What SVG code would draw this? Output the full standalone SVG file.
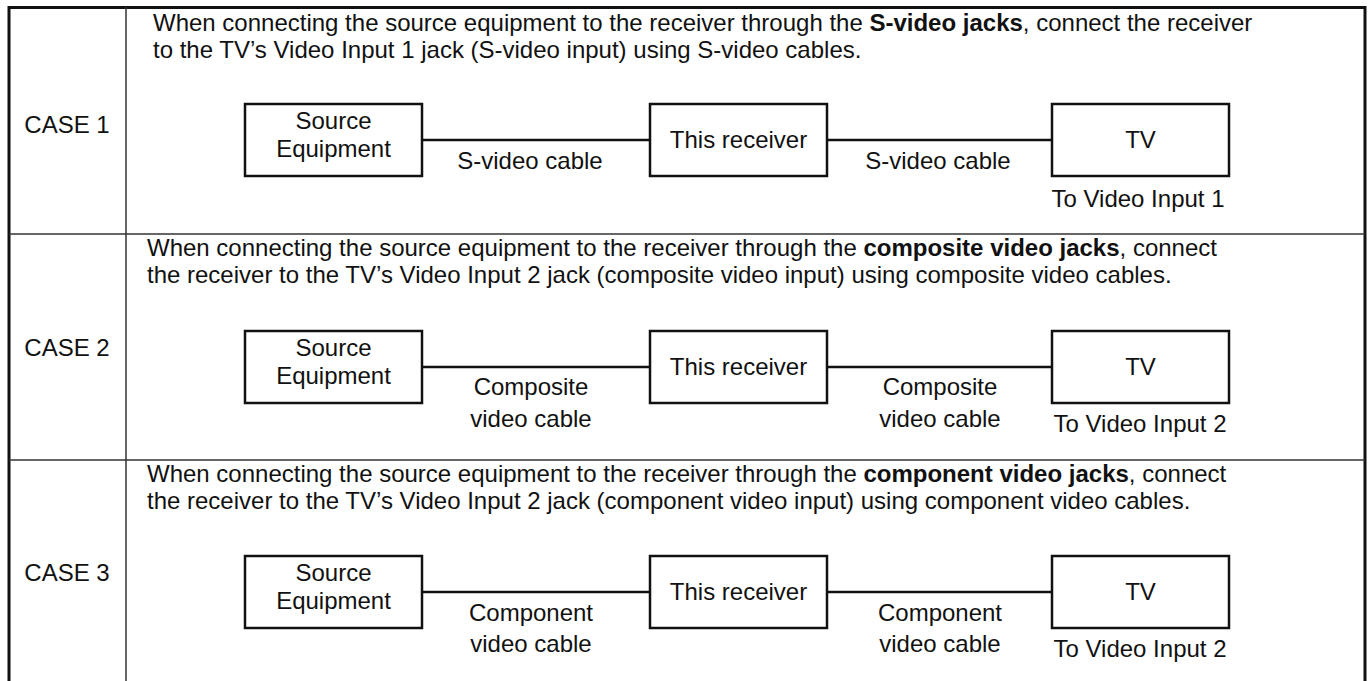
<svg xmlns="http://www.w3.org/2000/svg" width="1371" height="681" viewBox="0 0 1371 681">
<style>
text{font-family:"Liberation Sans",Arial,Helvetica,sans-serif;font-size:24px;fill:#111}
.m{text-anchor:middle}
.b{font-weight:bold}
.box{fill:#fff;stroke:#111;stroke-width:2.5}
.frame{fill:none;stroke:#111;stroke-width:3}
.div{fill:none;stroke:#333;stroke-width:1.5}
.wire{fill:none;stroke:#111;stroke-width:2.5}
</style>
<rect width="1371" height="681" fill="#fff"/>
<g id="table">
<path class="frame" d="M9,690 V7.5 H1365 V690"/>
<line class="div" x1="126" y1="7" x2="126" y2="690"/>
<line class="div" x1="9" y1="234" x2="1365" y2="234"/>
<line class="div" x1="9" y1="460" x2="1365" y2="460"/>
</g>
<g id="connectors">
<line class="wire" x1="422" y1="140" x2="650" y2="140"/>
<line class="wire" x1="827" y1="140" x2="1052" y2="140"/>
<line class="wire" x1="422" y1="367" x2="650" y2="367"/>
<line class="wire" x1="827" y1="367" x2="1052" y2="367"/>
<line class="wire" x1="422" y1="592" x2="650" y2="592"/>
<line class="wire" x1="827" y1="592" x2="1052" y2="592"/>
</g>
<g id="case1">
<text class="m" x="67" y="133">CASE 1</text>
<text x="153" y="31">When connecting the source equipment to the receiver through the <tspan class="b">S-video jacks</tspan>, connect the receiver</text>
<text x="153" y="58">to the TV’s Video Input 1 jack (S-video input) using S-video cables.</text>
<g id="c1-source"><rect class="box" x="245" y="104" width="177" height="72"/><text class="m" x="333.5" y="129">Source</text><text class="m" x="333.5" y="157">Equipment</text></g>
<g id="c1-receiver"><rect class="box" x="650" y="104" width="177" height="72"/><text class="m" x="738.5" y="148">This receiver</text></g>
<g id="c1-tv"><rect class="box" x="1052" y="104" width="177" height="72"/><text class="m" x="1140.5" y="148">TV</text></g>
<text class="m" x="530" y="169">S-video cable</text>
<text class="m" x="938" y="169">S-video cable</text>
<text class="m" x="1138" y="207">To Video Input 1</text>
</g>
<g id="case2">
<text class="m" x="67" y="356">CASE 2</text>
<text x="147" y="256">When connecting the source equipment to the receiver through the <tspan class="b">composite video jacks</tspan>, connect</text>
<text x="147" y="283">the receiver to the TV’s Video Input 2 jack (composite video input) using composite video cables.</text>
<g id="c2-source"><rect class="box" x="245" y="331" width="177" height="72"/><text class="m" x="333.5" y="356">Source</text><text class="m" x="333.5" y="384">Equipment</text></g>
<g id="c2-receiver"><rect class="box" x="650" y="331" width="177" height="72"/><text class="m" x="738.5" y="375">This receiver</text></g>
<g id="c2-tv"><rect class="box" x="1052" y="331" width="177" height="72"/><text class="m" x="1140.5" y="375">TV</text></g>
<text class="m" x="531" y="395">Composite</text>
<text class="m" x="531" y="427">video cable</text>
<text class="m" x="940" y="395">Composite</text>
<text class="m" x="940" y="427">video cable</text>
<text class="m" x="1140" y="432">To Video Input 2</text>
</g>
<g id="case3">
<text class="m" x="67" y="581">CASE 3</text>
<text x="147" y="482">When connecting the source equipment to the receiver through the <tspan class="b">component video jacks</tspan>, connect</text>
<text x="147" y="509">the receiver to the TV’s Video Input 2 jack (component video input) using component video cables.</text>
<g id="c3-source"><rect class="box" x="245" y="556" width="177" height="72"/><text class="m" x="333.5" y="581">Source</text><text class="m" x="333.5" y="609">Equipment</text></g>
<g id="c3-receiver"><rect class="box" x="650" y="556" width="177" height="72"/><text class="m" x="738.5" y="600">This receiver</text></g>
<g id="c3-tv"><rect class="box" x="1052" y="556" width="177" height="72"/><text class="m" x="1140.5" y="600">TV</text></g>
<text class="m" x="531" y="621">Component</text>
<text class="m" x="531" y="652">video cable</text>
<text class="m" x="940" y="621">Component</text>
<text class="m" x="940" y="652">video cable</text>
<text class="m" x="1140" y="657">To Video Input 2</text>
</g>
</svg>
